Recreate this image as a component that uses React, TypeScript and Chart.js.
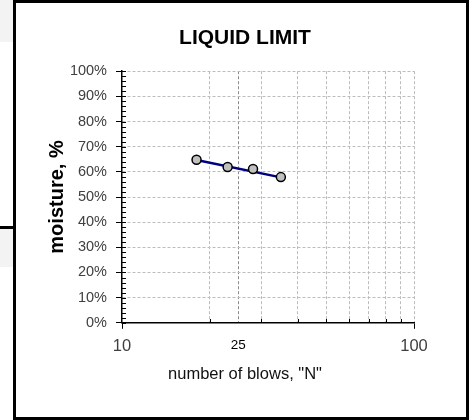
import React, { useEffect, useRef } from 'react';
import { Chart, registerables } from 'chart.js';

Chart.register(...registerables);

// ---- data ----
const blows = [18, 23, 28.1, 35];
const moisture = [64.8, 61.9, 61.1, 57.9];
const fitBlows = [18, 35];
const fitMoisture = [64.7, 57.8];
const xTickValues = [10, 20, 25, 30, 40, 50, 60, 70, 80, 90, 100];
const xLabeledTicks = [10, 25, 100];
const yMin = 0;
const yMax = 100;
const yMajorStep = 10;
const yMinorStep = 2;

const FONT = "'Liberation Sans', Arial, Helvetica, sans-serif";

const minorTicksPlugin = {
  id: 'minorTicks',
  beforeDatasetsDraw(chart: any) {
    const { ctx, chartArea, scales } = chart;
    const ys = scales.y;
    const xs = scales.x;
    ctx.save();
    ctx.strokeStyle = '#000';
    ctx.lineWidth = 1;
    ctx.beginPath();
    const x0 = Math.round(chartArea.left);
    for (let v = yMin; v <= yMax; v += yMinorStep) {
      const py = Math.round(ys.getPixelForValue(v)) + 0.5;
      ctx.moveTo(x0, py);
      ctx.lineTo(x0 + 4, py);
    }
    const y0 = Math.round(chartArea.bottom);
    xTickValues.forEach((v) => {
      if (xLabeledTicks.includes(v)) return;
      const px = Math.round(xs.getPixelForValue(v)) + 0.5;
      ctx.moveTo(px, y0);
      ctx.lineTo(px, y0 - 4);
    });
    ctx.stroke();
    ctx.restore();
  },
};

export default function App() {
  const ref = useRef<HTMLCanvasElement | null>(null);

  useEffect(() => {
    if (!ref.current) return;
    const chart = new Chart(ref.current, {
      type: 'scatter',
      data: {
        datasets: [
          {
            label: 'trials',
            data: blows.map((b, i) => ({ x: b, y: moisture[i] })),
            showLine: false,
            pointRadius: 4.5,
            pointBackgroundColor: '#c0c0c0',
            pointBorderColor: '#000',
            pointBorderWidth: 1.5,
            order: 0,
          },
          {
            label: 'fit',
            data: fitBlows.map((b, i) => ({ x: b, y: fitMoisture[i] })),
            showLine: true,
            borderColor: '#000080',
            borderWidth: 2.5,
            pointRadius: 0,
            order: 1,
          },
        ],
      },
      options: {
        animation: false,
        responsive: false,
        layout: { padding: { left: 8, right: 0, top: 0, bottom: 0 } },
        plugins: {
          legend: { display: false },
          tooltip: { enabled: false },
          title: {
            display: true,
            text: 'LIQUID LIMIT',
            color: '#000',
            font: { family: FONT, size: 21, weight: 'bold' },
            padding: { top: 23, bottom: 20 },
          },
          subtitle: {
            display: true,
            position: 'bottom',
            text: 'number of blows, "N"',
            color: '#111',
            font: { family: FONT, size: 16.5, weight: 'normal' },
            padding: { top: 0, bottom: 33 },
          },
        },
        scales: {
          x: {
            type: 'logarithmic',
            min: 10,
            max: 100,
            afterBuildTicks: (s: any) => {
              s.ticks = xTickValues.map((v) => ({ value: v }));
            },
            afterFit: (s: any) => {
              s.height = 41.4;
            },
            ticks: {
              autoSkip: false,
              maxRotation: 0,
              padding: 8,
              callback: (v: any) => (xLabeledTicks.includes(Number(v)) ? String(v) : ''),
              font: (c: any) =>
                c.tick && c.tick.value === 25
                  ? { family: FONT, size: 13.5 }
                  : { family: FONT, size: 16.5 },
              color: (c: any) => (c.tick && c.tick.value === 25 ? '#000' : '#404040'),
            },
            grid: {
              color: (c: any) => {
                const v = c.tick ? c.tick.value : 0;
                if (v === 10) return 'rgba(0,0,0,0)';
                if (v === 25) return '#8a8a8a';
                return '#bcbcbc';
              },
              lineWidth: 1,
              tickLength: 6,
              tickColor: (c: any) => {
                const v = c.tick ? c.tick.value : 0;
                return v === 10 || v === 100 ? '#000' : 'rgba(0,0,0,0)';
              },
            },
            border: { display: true, color: '#000', width: 1.5, dash: [3, 2] },
          },
          y: {
            min: yMin,
            max: yMax,
            afterFit: (s: any) => {
              s.width = 98;
            },
            ticks: {
              stepSize: yMajorStep,
              padding: 9,
              color: '#404040',
              font: { family: FONT, size: 14.5 },
              callback: (v: any) => v + '%',
            },
            grid: {
              color: (c: any) => (c.tick && c.tick.value === 0 ? 'rgba(0,0,0,0)' : '#bcbcbc'),
              lineWidth: 1,
              tickLength: 6,
              tickColor: '#000',
            },
            border: { display: true, color: '#000', width: 1.5, dash: [3, 2] },
            title: {
              display: true,
              text: 'moisture, %',
              color: '#000',
              font: { family: FONT, size: 20, weight: 'bold' },
              padding: { top: 21, bottom: 0 },
            },
          },
          y2: {
            position: 'right',
            display: true,
            afterFit: (s: any) => {
              s.width = 52;
            },
            ticks: { display: false },
            grid: { display: false },
            border: { display: false },
          },
        },
      },
      plugins: [minorTicksPlugin],
    } as any);
    return () => chart.destroy();
  }, []);

  return (
    <div
      style={{
        position: 'fixed',
        left: 0,
        top: 0,
        width: 474,
        height: 420,
        background: '#fff',
        overflow: 'hidden',
      }}
    >
      <div style={{ position: 'absolute', left: 0, top: 0, width: 13, height: 42, background: '#f3f3f3' }} />
      <div style={{ position: 'absolute', left: 0, top: 229, width: 13, height: 38, background: '#f3f3f3' }} />
      <div style={{ position: 'absolute', left: 0, top: 226, width: 16, height: 3, background: '#000' }} />
      <div
        style={{
          position: 'absolute',
          left: 13,
          top: 0,
          width: 456,
          height: 420,
          border: '3px solid #000',
          boxSizing: 'border-box',
        }}
      />
      <canvas ref={ref} width={450} height={414} style={{ position: 'absolute', left: 16, top: 3 }} />
    </div>
  );
}
